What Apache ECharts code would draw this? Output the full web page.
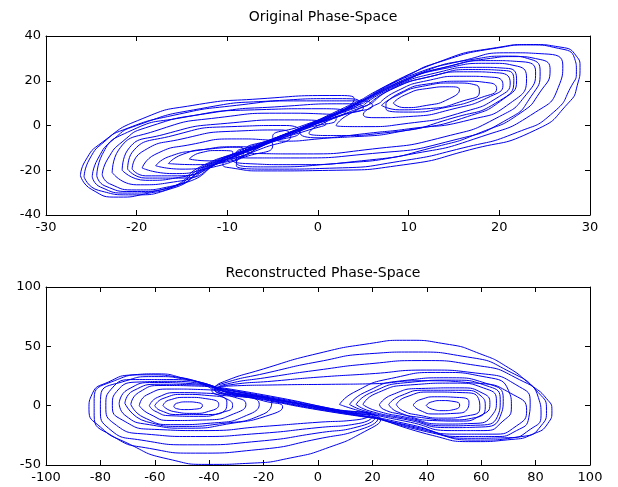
<!DOCTYPE html>
<html>
<head>
    <meta charset="utf-8">
    <title>Phase-Space</title>
    <script src="https://cdn.jsdelivr.net/npm/echarts@6/dist/echarts.min.js"></script>
    <style>
        body { margin: 0; background: #fff; }
    </style>
</head>
<body>
<div id="main" style="width: 618px;height:487px;"></div>
<script type="text/javascript">
    // loops, [x, y] points
    var topRightLoops = [
        [[8.3,10],[9.5,13.5],[12,16.5],[14.5,17.3],[15.6,16],[14.5,12],[12,9],[9.5,8],[8.3,10]],
        [[7,9],[8.5,13],[11.5,17.5],[15,19],[17.5,18],[17.8,15],[16,11],[12,7.5],[9,7],[7,9]],
        [[7.5,10],[9,14.5],[12,18.5],[16,19.8],[19,19],[19.7,16.5],[18,12.5],[14,8],[10,6],[7.5,7.5],[7.5,10]],
        [[6.8,10],[8.5,15],[12,20],[16,22],[19.5,21.5],[20.4,18],[19,13],[15,7.5],[10,4],[6.5,3.5],[5,5],[6.8,10]],
        [[6,10],[8,16],[12,21.5],[16.5,24],[20,23.5],[21.2,19],[20,13],[16,6],[10,1],[5,-0.5],[2,0],[3,4],[6,10]],
        [[5.5,9],[8,16],[13,22.5],[17,25],[20.8,24.5],[21.6,20],[20,11],[15,3.5],[8,-3],[2,-4.5],[-1,-3.5],[0,0],[5.5,9]],
        [[5,9],[8,16.5],[13,23.5],[17.5,26],[21,25.5],[21.9,20],[20.5,12],[16.5,4],[10,-2],[4,-5],[0,-5.5],[-2,-3],[1,3],[5,9]],
        [[4,8],[8,17],[14,25.5],[19,27.8],[22,26.5],[23,21],[21.2,10],[16.7,2.5],[10,-1.5],[5.7,-3.4],[0,-6],[-4,-7],[-5,-5],[-2,-0.5],[4,8]],
        [[5,10],[9,19],[14,26],[19,29],[22.5,28.5],[24,24],[23,14],[20,4],[14,-5],[6,-10.5],[-2,-12.7],[-7,-12.5],[-8,-11],[-5,-6],[0,2],[5,10]],
        [[5,11],[11,23],[17,29.5],[21,31],[23.5,29.5],[24.5,24],[23.5,13],[21,3],[15,-6.5],[6,-12.5],[-3,-14.5],[-8,-14.5],[-9,-12.5],[-6,-8],[5,11]],
        [[5,11],[10,21],[15,27],[19,30],[21.5,30.8],[24.5,29.5],[25.6,24.9],[24.5,15],[22.3,5.5],[18,-3],[13.1,-9.4],[5.7,-15.4],[-3,-17.5],[-8,-17],[-9.5,-15],[-7,-10.5],[-2,-2.5],[5,11]],
        [[5,12],[10,22],[16,29],[21,32.5],[25,32],[27,27],[26.5,17],[24,6],[18,-5],[10,-13],[2,-17],[-6,-18.5],[-9,-16.5],[-7,-11],[-1,0.5],[5,12]],
        [[5.7,13],[10,22.5],[13,27.9],[19.7,34.6],[23.4,36],[26.5,34.5],[28.3,30],[28.5,24],[28,18],[26,6],[22,-3],[16,-10],[9,-16],[2,-19],[-5,-19.5],[-9,-18],[-9,-15],[-6,-8.5],[-1,0],[5.7,13]],
        [[6,14],[13,27.9],[19.7,34.8],[23.4,36.2],[26.8,35],[28.5,31],[28.9,26],[28.6,18],[27.6,10],[24,-2],[16.7,-10.9],[9.4,-17.6],[2,-20],[-6,-20.3],[-9.5,-19],[-10.5,-17.5],[-8,-12],[-3,-3],[2,5],[6,14]]
    ];
    var topLeftLoops = [
        [[-14.2,-15],[-13,-12.2],[-11,-11.2],[-9.4,-11.8],[-9.8,-14],[-12,-15.8],[-14.2,-15]],
        [[-16.5,-17],[-15,-13],[-12,-10.5],[-8.5,-9.7],[-8.2,-12],[-10.5,-15.5],[-13.5,-17.5],[-16.5,-17]],
        [[-17.9,-18],[-16.5,-14],[-13,-11],[-9,-9.5],[-7,-10.5],[-8,-13.5],[-11,-17],[-15,-19.5],[-17.9,-18]],
        [[-19.4,-19],[-18,-13],[-14,-8.5],[-9,-6],[-5.5,-6.5],[-5,-9],[-8,-14],[-12,-19],[-16,-21.5],[-19.4,-19]],
        [[-20.5,-19.5],[-19.5,-12],[-15,-6],[-9,-2.5],[-4,-2],[-3,-4.5],[-6,-10],[-11,-17],[-15.5,-22.5],[-19,-22.5],[-20.5,-19.5]],
        [[-21,-19.5],[-20.5,-12],[-16,-4.5],[-9.5,-0.5],[-3.5,0],[-2,-2.5],[-5.5,-8],[-10.5,-16],[-15,-23.5],[-19,-23.5],[-21,-19.5]],
        [[-21.6,-20],[-21,-11],[-17,-4],[-10,1],[-3,2.5],[0.9,0.7],[-1,-2],[-5,-7],[-10,-15],[-15,-23],[-19,-24.5],[-21.6,-20]],
        [[-22.7,-21],[-22,-11],[-18,-2.5],[-11,3.5],[-4,5.5],[1.5,5],[2,3],[-1,-1],[-6,-8.5],[-11,-16.5],[-15.5,-25],[-20,-26.5],[-22.7,-21]],
        [[-23.8,-22],[-23.2,-15],[-21.5,-7],[-19,-1],[-12,5.5],[-4,8.5],[3.5,9.7],[5,8],[2,4],[-3,-3],[-8,-11],[-12,-18],[-16,-27],[-20,-28.8],[-23,-26],[-23.8,-22]],
        [[-24.4,-22.5],[-23.8,-13],[-21,-3],[-15,3.5],[-7,7],[0,7.5],[3,6],[0,1],[-5,-6],[-10,-14],[-15,-26],[-20.5,-29.5],[-23.5,-27],[-24.4,-22.5]],
        [[-24.9,-23],[-24.3,-15],[-22.5,-6],[-20,0],[-13,7.5],[-5,11],[2.2,12],[4.5,11],[2.5,6],[-2,-1.5],[-7,-9.5],[-12,-17],[-17,-28.5],[-21,-30.2],[-24,-27.5],[-24.9,-23]],
        [[-25.8,-23],[-25.2,-15],[-23.5,-7],[-21.5,-2],[-16,4.5],[-9,9],[-2,11],[5,11],[6,9],[3,5],[-2,-2],[-7,-10],[-12,-17.5],[-16,-28],[-20.5,-31],[-24.2,-29],[-25.8,-23]],
        [[-26.2,-22.4],[-25.7,-16],[-23.8,-7.5],[-19.4,3],[-13.8,9],[-6.5,11.9],[2.2,13.4],[4,12],[2,5],[-3,-3],[-8,-11],[-13,-18.5],[-15.7,-26.8],[-19,-30.5],[-22,-32],[-25,-28.5],[-26.2,-22.4]]
    ];
    var botRightLoops = [
        [[39.8,0],[41.5,3],[45.5,4.3],[50,3.5],[52.1,0.5],[50.5,-3],[46,-4.2],[42,-3],[39.8,0]],
        [[35,0.5],[37.5,5],[44,7.5],[51,7],[55.5,3],[55,-2.5],[50,-6.5],[43,-7],[37.5,-4],[35,0.5]],
        [[28.8,1],[32,7],[42,11.5],[53,11],[59,6],[59.5,-2],[55,-8.5],[46,-10.5],[37,-8],[31,-4],[28.8,1]],
        [[26,1],[30,8],[40,13],[53,13],[60,8],[61.5,-1],[58,-10],[49,-12],[38,-10],[29,-5],[26,1]],
        [[22.6,1],[27,9],[38,14.5],[52,15],[61,10],[63.2,1],[60,-8],[52,-13],[42,-12.5],[31,-7.5],[24,-3],[22.6,1]],
        [[16.5,1],[21,10],[34,17.5],[50,19],[62,14],[65.6,4],[64,-8],[57,-15],[46,-15.5],[33,-10],[21,-4],[16.5,1]],
        [[14,1],[19,10.5],[33,19.5],[49,21.5],[63,16],[67,5],[66,-9],[58,-16.5],[47,-17],[33,-11],[19,-4.5],[14,1]],
        [[11.6,1],[17,11],[31,21],[48,23.5],[63,18],[68.1,6],[67,-9],[60,-18],[48,-18.5],[33,-12],[18,-5],[11.6,1]],
        [[7.9,1],[13,11],[27,23],[45,28],[62,24],[70,13],[71.1,-1],[68,-13],[61,-21],[49,-21],[34,-14],[18,-6],[7.9,1]],
        [[18,-8],[0,-1],[-20,7],[-36,15],[-33,16.5],[-15,17.5],[5,18],[19,18.4],[38,21],[58,19],[72,9],[76.7,-4],[73,-17],[64,-24],[50,-24],[35,-16.5],[18,-8]],
        [[20,-10],[0,-2.5],[-20,5.5],[-38,13.5],[-34,17],[-15,21],[0,24],[19,26.8],[40,30],[60,27],[74,16],[78,3],[77.5,-10],[73,-21],[65,-26],[52,-26],[38,-19],[20,-10]],
        [[21,-10],[0,-2],[-21,7],[-37,14],[-35,17.5],[-18,24],[0,30],[19,35.3],[38,38],[58,34],[74,22],[81,7],[82,-8],[78,-20],[70,-27],[55,-27.5],[40,-21],[21,-10]],
        [[22,-11],[0,-3.5],[-20,5],[-39,13],[-36,18],[-18,28],[0,37],[19,43.8],[34.9,45.2],[55,41],[71,28],[81,11],[84,-4],[82,-17],[75,-26],[58,-29],[42,-23],[22,-11]],
        [[23,-11],[0,-3],[-20,6],[-38,14.5],[-36,19],[-20,31],[0,44],[18.9,52.3],[32.5,55.1],[47,52],[59.5,43.8],[70,32],[78,18],[84,6],[86,-4.2],[84.5,-15],[79,-24],[71,-28.5],[57,-30.3],[42,-25],[23,-11]]
    ];
    var botLeftLoops = [
        [[-53,-1],[-52,2],[-48,3.2],[-44,2.5],[-42.5,0],[-44.5,-2.8],[-49,-3.3],[-52,-2.5],[-53,-1]],
        [[-57,0],[-55,4.5],[-48,7],[-40,5.5],[-36.5,1],[-39,-4],[-46,-6.5],[-53,-5],[-57,0]],
        [[-60,0],[-57,6],[-49,9.5],[-40,8.5],[-33.5,3],[-34,-3.5],[-42,-7.5],[-51,-7.5],[-58,-4],[-60,0]],
        [[-62,0],[-59,7],[-51,11],[-41,10.5],[-33,5],[-31.4,0],[-35,-5.5],[-44,-9],[-54,-8.5],[-60,-4.5],[-62,0]],
        [[-65.7,0],[-63,9],[-54,14],[-42,13.5],[-32,8],[-26.5,1],[-30,-6],[-41,-12],[-54,-12.5],[-62,-7],[-65.7,0]],
        [[-68.8,1],[-66,11],[-57,17],[-44,16.5],[-32,10],[-21.6,1],[-25,-7],[-38,-14.5],[-53,-16],[-64,-10],[-68.8,1]],
        [[-71,2],[-68,12.5],[-58,18],[-45,17.5],[-33,11],[-17,2.5],[-20,-7],[-35,-15],[-50,-17.5],[-63,-13.5],[-71,2]],
        [[-73.1,2],[-70,13.5],[-60,19.5],[-46,18.5],[-33,12],[-20,4],[-13,-1],[-18,-8],[-32,-15],[-48,-19],[-62,-16],[-71,-8],[-73.1,2]],
        [[-36,14],[-15,5.5],[5,-3],[19,-8],[14,-12],[0,-14],[-20,-17.5],[-42,-21],[-60,-20],[-72,-12],[-75.6,0],[-74,12],[-65,20],[-52,20.5],[-36,14]],
        [[-38,16],[-15,7],[5,-2.5],[20,-9],[15,-15],[0,-18.5],[-22,-23.5],[-45,-26],[-63,-24],[-75,-15],[-78,0],[-76,14],[-67,22],[-53,22],[-38,16]],
        [[-37,15],[-12,5],[8,-4],[21,-10],[16,-17],[0,-23],[-22,-30],[-46,-33],[-65,-29],[-77,-19],[-80,-3],[-79.9,8],[-72,20],[-60,24.5],[-48,22],[-37,15]],
        [[-39,14],[-12,3.5],[8,-5],[22,-11],[17,-19],[0,-28],[-22,-37],[-45,-40],[-62,-36],[-76,-25],[-82.3,-8],[-82.3,6],[-76,20],[-63,26],[-50,23.5],[-39,14]],
        [[-37,15],[-12,4],[8,-5],[23,-12],[17,-22],[4.2,-35],[-10,-44],[-25,-48.5],[-40,-49.5],[-55,-45],[-70.6,-31],[-80,-18],[-84.2,-3],[-83,10],[-77,20],[-68,26],[-59.6,26.8],[-48.5,22.6],[-37,15]]
    ];

    var titles = ['Original Phase-Space', 'Reconstructed Phase-Space'];
    var topXRange = [-30, 30, 10];
    var topYRange = [-40, 40, 20];
    var botXRange = [-100, 100, 20];
    var botYRange = [-50, 100, 50];

    var lineColor = '#0000ee';
    var font = 'DejaVu Sans';

    function loopSeries(loops, idx) {
        return loops.map(function (pts) {
            return {
                type: 'line',
                xAxisIndex: idx * 2,
                yAxisIndex: idx * 2,
                data: pts,
                smooth: 0.6,
                showSymbol: false,
                clip: true,
                lineStyle: {color: lineColor, width: 1}
            };
        });
    }

    function axisPair(range, gridIndex, dim) {
        var main = {
            type: 'value',
            gridIndex: gridIndex,
            min: range[0],
            max: range[1],
            interval: range[2],
            position: dim === 'x' ? 'bottom' : 'left',
            axisLine: {show: true, onZero: false, lineStyle: {color: '#000', width: 1}},
            axisTick: {show: true, inside: true, length: 5, lineStyle: {color: '#000'}},
            axisLabel: {color: '#000', fontSize: 13, fontFamily: font, margin: dim === 'x' ? 6 : 5},
            splitLine: {show: false}
        };
        var mirror = {
            type: 'value',
            gridIndex: gridIndex,
            min: range[0],
            max: range[1],
            interval: range[2],
            position: dim === 'x' ? 'top' : 'right',
            axisLine: {show: true, onZero: false, lineStyle: {color: '#000', width: 1}},
            axisTick: {show: true, inside: true, length: 5, lineStyle: {color: '#000'}},
            axisLabel: {show: false},
            splitLine: {show: false}
        };
        return [main, mirror];
    }

    var myChart = echarts.init(document.getElementById('main'));
    var option = {
        animation: false,
        backgroundColor: '#fff',
        title: [
            {text: titles[0], left: 318, top: 5, textAlign: 'center',
                textStyle: {fontSize: 14, fontWeight: 'normal', color: '#000', fontFamily: font}},
            {text: titles[1], left: 318, top: 261, textAlign: 'center',
                textStyle: {fontSize: 14, fontWeight: 'normal', color: '#000', fontFamily: font}}
        ],
        grid: [
            {left: 46, right: 28, top: 36, height: 179},
            {left: 46, right: 28, top: 287, height: 178}
        ],
        xAxis: axisPair(topXRange, 0, 'x').concat(axisPair(botXRange, 1, 'x')),
        yAxis: axisPair(topYRange, 0, 'y').concat(axisPair(botYRange, 1, 'y')),
        series: loopSeries(topRightLoops, 0)
            .concat(loopSeries(topLeftLoops, 0))
            .concat(loopSeries(botRightLoops, 1))
            .concat(loopSeries(botLeftLoops, 1))
    };
    myChart.setOption(option);
</script>
</body>
</html>
